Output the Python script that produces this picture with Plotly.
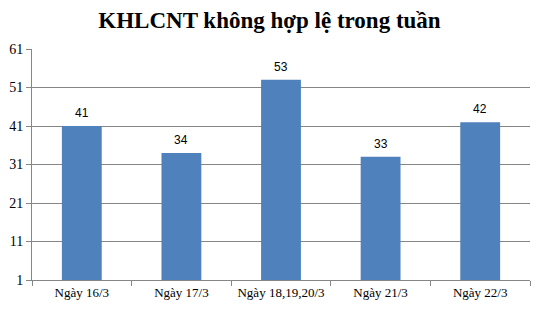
import plotly.graph_objects as go

categories = ["Ngày 16/3", "Ngày 17/3", "Ngày 18,19,20/3", "Ngày 21/3", "Ngày 22/3"]
values = [41, 34, 53, 33, 42]
title_text = "KHLCNT không hợp lệ trong tuần"
y_ticks = [1, 11, 21, 31, 41, 51, 61]

fig = go.Figure()
fig.add_trace(go.Bar(
    x=categories, y=values,
    marker=dict(color="#4F81BD", line=dict(width=0)),
    width=0.4,
))

for c, v in zip(categories, values):
    fig.add_annotation(x=c, y=v, text=str(v), showarrow=False,
                       yanchor="bottom", yshift=4,
                       font=dict(family="Liberation Sans", size=12, color="#000000"))

fig.update_layout(
    width=539, height=309,
    margin=dict(l=30, r=9, t=49, b=28),
    paper_bgcolor="white", plot_bgcolor="white",
    showlegend=False,
    title=dict(text="<b>" + title_text + "</b>", x=0.5, xanchor="center",
               y=1 - 20 / 309, yanchor="middle",
               font=dict(family="Liberation Serif", size=23, color="#000000")),
)
fig.update_yaxes(range=[1, 61], tickvals=y_ticks, ticktext=[str(t) for t in y_ticks],
                 showgrid=True, gridcolor="#868686", gridwidth=1,
                 showline=True, linecolor="#868686", linewidth=1,
                 ticks="outside", ticklen=5, tickcolor="#868686",
                 tickfont=dict(family="Liberation Serif", size=14, color="#000000"),
                 zeroline=False)
fig.update_xaxes(showgrid=False, showline=True, linecolor="#868686", linewidth=1,
                 ticks="outside", ticklen=5, tickcolor="#868686", tickson="boundaries",
                 tickfont=dict(family="Liberation Serif", size=13, color="#000000"))

fig.write_html("out.html")
